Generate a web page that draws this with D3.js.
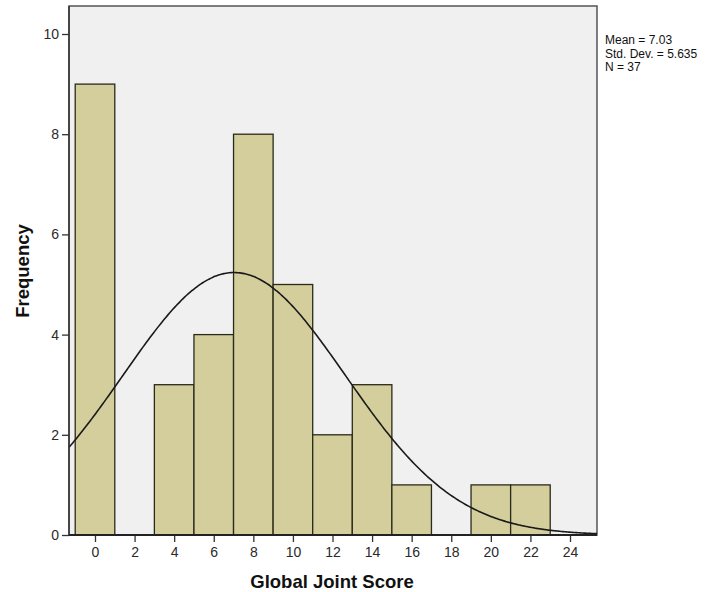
<!DOCTYPE html>
<html><head><meta charset="utf-8">
<script src="https://cdn.jsdelivr.net/npm/d3@7"></script>
<style>body{margin:0;background:#fff}svg{display:block}</style>
</head><body>
<svg id="c" width="713" height="592"></svg>
<script>
const binStarts = [-1, 1, 3, 5, 7, 9, 11, 13, 15, 17, 19, 21];
const binCounts = [9, 0, 3, 4, 8, 5, 2, 3, 1, 0, 1, 1];
const binWidth = 2;
const xTicks = [0, 2, 4, 6, 8, 10, 12, 14, 16, 18, 20, 22, 24];
const yTicks = [0, 2, 4, 6, 8, 10];
const statMean = 7.03, statSD = 5.635, statN = 37;
const statLines = ["Mean = 7.03", "Std. Dev. = 5.635", "N = 37"];

const svg = d3.select("#c");
const L = 69, R = 597, T = 6, B = 535;
const x = d3.scaleLinear().domain([0, 24]).range([95, 570]);
const y = d3.scaleLinear().domain([0, 10]).range([B, 34]);
const FF = "Liberation Sans, Arial, sans-serif";

svg.append("rect").attr("x", L).attr("y", T).attr("width", R - L).attr("height", B - T)
  .attr("fill", "#f0f0f0").attr("stroke", "#555").attr("stroke-width", 1.5);

const bins = binStarts.map((s, i) => ({s, c: binCounts[i]})).filter(d => d.c > 0);
svg.append("g").selectAll("rect").data(bins).join("rect")
  .attr("x", d => x(d.s)).attr("width", d => x(d.s + binWidth) - x(d.s))
  .attr("y", d => y(d.c)).attr("height", d => y(0) - y(d.c))
  .attr("fill", "#d3ce9c").attr("stroke", "#2a2a1a").attr("stroke-width", 1.3);

// normal curve
const xd = x.invert(L), xe = x.invert(R);
const pts = d3.range(0, 301).map(i => xd + (xe - xd) * i / 300);
const pdf = v => Math.exp(-0.5 * ((v - statMean) / statSD) ** 2) / (statSD * Math.sqrt(2 * Math.PI));
svg.append("path").datum(pts)
  .attr("d", d3.line().x(v => x(v)).y(v => y(statN * binWidth * pdf(v))).curve(d3.curveBasis))
  .attr("fill", "none").attr("stroke", "#1a1a1a").attr("stroke-width", 1.6);

// axes
const ya = svg.append("g").attr("transform", `translate(${L},0)`)
  .call(d3.axisLeft(y).tickValues(yTicks).tickSize(7).tickPadding(3).tickFormat(d3.format("d")));
const xa = svg.append("g").attr("transform", `translate(0,${B})`)
  .call(d3.axisBottom(x).tickValues(xTicks).tickSize(7).tickPadding(5).tickFormat(d3.format("d")));
[ya, xa].forEach(g => {
  g.select(".domain").remove();
  g.selectAll("line").attr("stroke", "#333").attr("stroke-width", 1.3);
  g.selectAll("text").attr("font-family", FF).attr("font-size", 14).attr("fill", "#2a2a2a");
});
svg.append("line").attr("x1", L).attr("x2", L).attr("y1", T).attr("y2", B).attr("stroke", "#333").attr("stroke-width", 1.5);
svg.append("line").attr("x1", L).attr("x2", R).attr("y1", B).attr("y2", B).attr("stroke", "#222").attr("stroke-width", 1.8);

svg.append("text").attr("x", 332).attr("y", 588).attr("text-anchor", "middle")
  .attr("font-family", FF).attr("font-weight", "bold").attr("font-size", 18.5)
  .attr("fill", "#111").text("Global Joint Score");
svg.append("text").attr("transform", "translate(29,271) rotate(-90)").attr("text-anchor", "middle")
  .attr("font-family", FF).attr("font-weight", "bold").attr("font-size", 18.5)
  .attr("fill", "#111").text("Frequency");

svg.append("g").selectAll("text").data(statLines).join("text")
  .attr("x", 605).attr("y", (d, i) => 44 + i * 13.5)
  .attr("font-family", FF).attr("font-size", 12).attr("fill", "#111")
  .text(d => d);
</script>
</body></html>
